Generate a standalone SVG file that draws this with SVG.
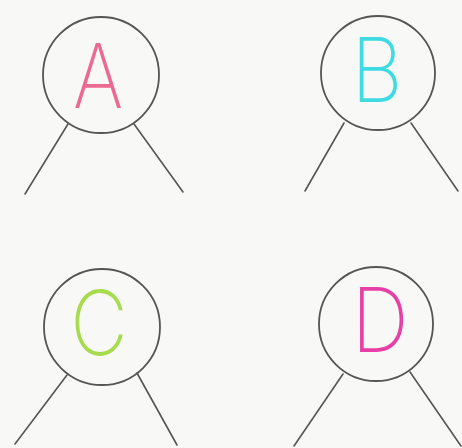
<svg xmlns="http://www.w3.org/2000/svg" width="462" height="448" viewBox="0 0 462 448">
<style>
.ring{fill:none;stroke:#555;stroke-width:1.8}
.edge{stroke:#555;stroke-width:1.6;fill:none;stroke-linecap:round}
.lbl{font-family:Inter,"Liberation Sans",sans-serif;font-weight:250;font-size:90px;text-anchor:middle}
</style>
<rect width="462" height="448" fill="#f8f8f6"/>
<g id="connectors">
<line class="edge" x1="68" y1="124" x2="25" y2="194"/>
<line class="edge" x1="134" y1="124" x2="183" y2="192"/>
<line class="edge" x1="344" y1="123" x2="305" y2="191"/>
<line class="edge" x1="411" y1="123" x2="458" y2="191"/>
<line class="edge" x1="67" y1="375" x2="15" y2="444"/>
<line class="edge" x1="137" y1="373" x2="177" y2="445"/>
<line class="edge" x1="343" y1="374" x2="294" y2="446"/>
<line class="edge" x1="410" y1="372" x2="461" y2="446"/>
</g>
<g id="nodeA"><circle class="ring" cx="101" cy="75" r="58"/><text class="lbl" transform="translate(98,108) scale(0.85,1)" fill="#ec6a92">A</text></g>
<g id="nodeB"><circle class="ring" cx="378" cy="73" r="57"/><text class="lbl" transform="translate(377,102) scale(0.88,1)" fill="#3fdbe3">B</text></g>
<g id="nodeC"><circle class="ring" cx="102" cy="327" r="58"/><text class="lbl" transform="translate(99,355) scale(0.88,1)" fill="#a6dc4e">C</text></g>
<g id="nodeD"><circle class="ring" cx="376" cy="324" r="57"/><text class="lbl" transform="translate(380,352) scale(0.88,1)" fill="#e83fa6">D</text></g>
</svg>
